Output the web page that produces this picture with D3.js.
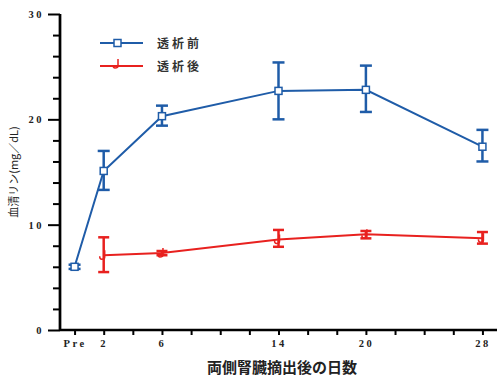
<!DOCTYPE html>
<html>
<head>
<meta charset="utf-8">
<script src="https://cdn.jsdelivr.net/npm/d3@7"></script>
<style>
  body { margin: 0; background: #fff; }
  svg { display: block; }
</style>
</head>
<body>
<svg id="chart" width="504" height="378"></svg>
<script>
// days after operation (Pre = day 0)
var days = [0, 2, 6, 14, 20, 28];
var dayLabels = ['Pre', '2', '6', '14', '20', '28'];

// 透析前
var beforeMean = [6.0, 15.1, 20.3, 22.7, 22.8, 17.4];
var beforeLow  = [5.8, 13.3, 19.4, 20.0, 20.7, 16.0];
var beforeHigh = [6.2, 17.0, 21.3, 25.4, 25.1, 19.0];

// 透析後 (no value at Pre)
var afterDays = [2, 6, 14, 20, 28];
var afterMean = [7.1, 7.3, 8.6, 9.1, 8.7];
var afterLow  = [5.5, 7.1, 7.9, 8.7, 8.2];
var afterHigh = [8.8, 7.5, 9.5, 9.4, 9.3];

var yTicks = [0, 10, 20, 30];

var svg = d3.select('#chart');
var blue = '#1f5ca8', red = '#e8211f';

var x = d3.scaleLinear().domain([-1, 29]).range([60, 497]),
    y = d3.scaleLinear().domain([0, 30]).range([330, 14]);

var tickFont = '"Liberation Serif", "DejaVu Serif", serif';
var cjkFont = '"Noto Sans CJK JP", sans-serif';

// y axis
var yAxis = svg.append('g')
  .attr('transform', 'translate(60,0)')
  .call(d3.axisLeft(y).tickValues(yTicks).tickSize(12).tickPadding(4).tickFormat(d3.format('d')));
yAxis.append('g')
  .call(d3.axisLeft(y).tickValues(d3.range(2, 30, 2).filter(d => d % 10)).tickSize(7).tickFormat(''));
yAxis.selectAll('path.domain').attr('d', `M0,${y(0)}V${y(30)}`);

// x axis
var xAxis = svg.append('g')
  .attr('transform', `translate(0,${y(0)})`)
  .call(d3.axisBottom(x).tickValues(d3.range(0, 29, 2)).tickSize(5).tickPadding(5)
    .tickFormat(d => { var i = days.indexOf(d); return i < 0 ? '' : dayLabels[i]; }));
xAxis.select('path.domain').attr('d', `M${x(-1)},0H${x(29)}`);

svg.selectAll('.domain').attr('stroke', '#000').attr('stroke-width', 2.4);
svg.selectAll('.tick line').attr('stroke', '#000').attr('stroke-width', 2);
svg.selectAll('.tick text')
  .attr('fill', '#222')
  .attr('font-family', tickFont)
  .attr('font-weight', 'bold')
  .attr('font-size', 10.5)
  .attr('letter-spacing', '2.5px');

// axis titles
svg.append('text')
  .attr('x', 282).attr('y', 373)
  .attr('text-anchor', 'middle')
  .attr('font-family', cjkFont)
  .attr('font-weight', 'bold')
  .attr('font-size', 15)
  .attr('fill', '#222')
  .text('両側腎臓摘出後の日数');

svg.append('text')
  .attr('transform', 'translate(18,172) rotate(-90)')
  .attr('text-anchor', 'middle')
  .attr('font-family', cjkFont)
  .attr('font-size', 11)
  .attr('fill', '#222')
  .text('血清リン(mg／dL)');

var line = d3.line().x(d => x(d[0])).y(d => y(d[1]));

function errorBars(xs, lo, hi, color, cap, width) {
  var g = svg.append('g').attr('stroke', color).attr('stroke-width', width).attr('fill', 'none');
  xs.forEach((d, i) => {
    g.append('line').attr('x1', x(d)).attr('x2', x(d)).attr('y1', y(lo[i])).attr('y2', y(hi[i]));
    g.append('line').attr('x1', x(d) - cap).attr('x2', x(d) + cap).attr('y1', y(lo[i])).attr('y2', y(lo[i]));
    g.append('line').attr('x1', x(d) - cap).attr('x2', x(d) + cap).attr('y1', y(hi[i])).attr('y2', y(hi[i]));
  });
}

// 透析後 (red)
errorBars(afterDays, afterLow, afterHigh, red, 5.5, 2.5);
svg.append('path')
  .datum(afterDays.map((d, i) => [d, afterMean[i]]))
  .attr('fill', 'none').attr('stroke', red).attr('stroke-width', 2)
  .attr('d', line);

function hook(g, cx, cy) {
  g.append('path')
    .attr('d', `M${cx + 1},${cy - 5}V${cy + 2}Q${cx + 1},${cy + 4} ${cx - 2},${cy + 4}Q${cx - 4},${cy + 4} ${cx - 4},${cy + 1}`)
    .attr('fill', 'none').attr('stroke', red).attr('stroke-width', 1.5);
}
var redMarks = svg.append('g');
afterDays.forEach((d, i) => hook(redMarks, x(d), y(afterMean[i])));

// 透析前 (blue)
errorBars(days, beforeLow, beforeHigh, blue, 6, 2.5);
svg.append('path')
  .datum(days.map((d, i) => [d, beforeMean[i]]))
  .attr('fill', 'none').attr('stroke', blue).attr('stroke-width', 2)
  .attr('d', line);
svg.append('g').selectAll('rect')
  .data(days)
  .join('rect')
    .attr('x', d => x(d) - 3.5)
    .attr('y', (d, i) => y(beforeMean[i]) - 3.5)
    .attr('width', 7).attr('height', 7)
    .attr('fill', '#fff').attr('stroke', blue).attr('stroke-width', 1.5);

// legend
var legend = svg.append('g');
legend.append('line').attr('x1', 100).attr('x2', 143).attr('y1', 43).attr('y2', 43)
  .attr('stroke', blue).attr('stroke-width', 2);
legend.append('rect').attr('x', 114).attr('y', 39.5).attr('width', 7).attr('height', 7)
  .attr('fill', '#fff').attr('stroke', blue).attr('stroke-width', 1.5);
legend.append('line').attr('x1', 100).attr('x2', 143).attr('y1', 66).attr('y2', 66)
  .attr('stroke', red).attr('stroke-width', 2);
hook(legend, 117, 64);

legend.selectAll('text')
  .data(['透析前', '透析後'])
  .join('text')
    .attr('x', 157)
    .attr('y', (d, i) => 48 + i * 23)
    .attr('font-family', cjkFont)
    .attr('font-weight', 'bold')
    .attr('font-size', 12)
    .attr('letter-spacing', '3px')
    .attr('fill', '#333')
    .text(d => d);
</script>
</body>
</html>
